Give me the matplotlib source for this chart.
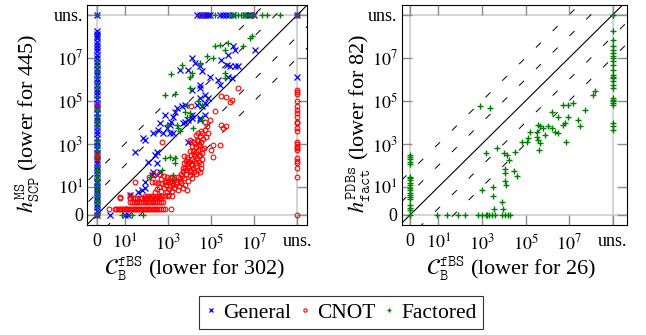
import matplotlib
matplotlib.use('Agg')
import matplotlib.pyplot as plt
from matplotlib.lines import Line2D

plt.rcParams['font.family'] = ['Liberation Serif', 'DejaVu Serif']
plt.rcParams['mathtext.fontset'] = 'stix'
plt.rcParams['lines.scale_dashes'] = False

# values are log10 of the measure; 0 and "unsolved" get their own slots
ZERO = -0.3
UNS = 9.0

tick_pos = [ZERO, 1, 3, 5, 7, UNS]
tick_lbl = ['0', '$10^{1}$', '$10^{3}$', '$10^{5}$', '$10^{7}$', 'uns.']

# ---------------- left plot: C_B^fBS vs h^MS_SCP ----------------
# General (blue)
gen_col_y = [-0.3, -0.12, 0.05, 0.22, 0.4, 0.52, 0.7, 0.86, 1.0, 1.18, 1.3, 1.47, 1.62, 1.8,
             1.93, 2.1, 2.27, 2.44, 2.6, 2.78, 2.95, 3.1, 3.28, 3.45, 3.6, 3.77, 3.93, 4.1,
             4.25, 4.42, 4.6, 4.75, 4.9, 5.07, 5.25, 5.4, 5.55, 5.72, 5.88, 6.02, 6.2, 6.35,
             6.5, 6.66, 6.8, 6.97, 7.12, 7.3, 7.45, 7.6, 7.75, 7.9, 8.02, 8.12, 8.23, UNS]
gen_row_x = [4.36, 4.48, 4.56, 4.65, 4.75, 4.86, 4.94, 5.4, 5.56, 5.7, 5.82, 6.0, 6.56, 6.7,
             6.8, 7.0, UNS]
gen_ucol_y = [6.1]
gen_bot_x = [0.32, 1.01, 1.16]
gen_pts = [(4.10, 6.99), (3.55, 6.44), (3.94, 6.44), (4.25, 6.76), (4.48, 5.75), (3.40, 4.66),
           (3.32, 4.50), (2.86, 4.35), (3.79, 4.82), (4.10, 4.35), (4.56, 6.37), (4.48, 6.6),
           (6.02, 7.53), (6.10, 7.37), (7.03, 7.37), (5.79, 7.14), (5.48, 6.91), (5.72, 6.68),
           (5.87, 6.6), (6.10, 6.6), (6.25, 6.6), (4.94, 6.13), (5.33, 5.98), (5.79, 6.13),
           (5.95, 6.06), (5.41, 5.75), (4.48, 5.59), (4.71, 5.28), (4.48, 5.13), (4.86, 5.13),
           (4.33, 4.82), (4.56, 4.74), (4.71, 4.9), (4.10, 5.51), (3.63, 4.74), (3.94, 3.11),
           (4.48, 4.2), (4.71, 4.35), (3.25, 4.27), (2.63, 3.96), (2.55, 3.65), (2.32, 3.5),
           (2.78, 3.5), (3.09, 3.5), (3.25, 3.5), (2.94, 3.73), (3.71, 3.96), (3.94, 4.12),
           (4.1, 4.2), (4.48, 4.12), (1.94, 3.19), (1.86, 3.27), (1.47, 2.64), (2.48, 2.64),
           (2.40, 2.49), (2.09, 2.18), (2.48, 2.1), (2.63, 1.71), (2.25, 1.56), (1.94, 0.94),
           (1.78, 0.86), (1.62, 0.78), (1.24, 0.63), (2.32, 1.71), (1.94, 1.25), (3.16, 4.04),
           (3.08, 3.89), (3.79, 4.04)]

# CNOT (red)
cnot_col_y = [-0.3, 2.33, 2.45, 2.58, 4.7, 4.82]
cnot_row_x = [4.53, 6.95, UNS]
cnot_ucol_y = [-0.3, 1.48, 1.87, 2.1, 2.21, 2.34, 2.72, 2.8, 2.88, 2.99, 3.11, 3.6, 3.73, 3.97,
               4.04, 4.27, 4.43, 4.58, 4.74, 4.97, 5.31, 5.41, 5.51]
cnot_h1_x = [0.27, 0.55, 0.61, 0.69, 0.76, 0.83, 0.9, 0.98, 1.05, 1.11, 1.19, 1.26, 1.33, 1.41,
             1.48, 1.55, 1.63, 1.7, 1.77, 1.84, 1.92, 1.99, 2.06, 2.14, 2.21, 2.29, 2.36, 2.44,
             2.51, 2.6, 2.68, 2.77, 2.86, 3.12]
cnot_h2_x = [1.24, 1.33, 1.42, 1.5, 1.58, 1.67, 1.75, 1.83, 1.92, 2.0, 2.08, 2.17, 2.25, 2.33,
             2.42, 2.5, 2.58, 2.67, 2.78]
cnot_h3_x = [1.24, 1.36, 1.47, 1.58, 1.7, 1.81, 1.93, 2.04, 2.15, 2.27, 2.38, 2.5, 2.63]
cnot_h4_x = [1.94, 2.07, 2.2, 2.33, 2.47, 2.6, 2.74, 2.88, 3.02, 3.17]
cnot_pts = [(0.78, 0.48), (1.24, 0.63), (1.47, 1.25), (0.78, 0.55), (2.25, 1.25), (2.4, 1.25),
            (2.55, 1.2), (2.7, 1.17), (2.85, 1.22), (3.0, 1.25), (3.17, 1.2), (2.4, 0.75),
            (2.5, 0.9), (2.6, 1.0), (2.7, 0.8), (2.8, 0.95), (2.9, 1.1), (2.95, 0.75),
            (3.05, 0.9), (3.1, 1.05), (3.2, 0.8), (3.3, 0.95), (3.35, 1.15), (3.45, 0.85),
            (3.5, 1.05), (3.6, 1.2), (3.7, 0.95), (3.8, 1.1), (3.9, 0.85), (3.3, 1.35),
            (3.45, 1.45), (3.55, 1.3), (3.65, 1.5), (3.75, 1.4), (3.85, 1.6), (3.95, 1.3),
            (4.0, 1.55), (3.2, 1.45), (3.1, 1.4), (2.95, 1.45), (2.8, 1.5), (2.7, 1.35),
            (2.6, 1.6), (2.1, 1.45), (2.3, 1.6), (3.7, 1.75), (3.8, 1.9), (3.9, 2.05),
            (4.0, 1.8), (4.1, 2.0), (4.2, 2.2), (4.3, 1.95), (4.35, 2.35), (4.45, 2.15),
            (4.5, 2.5), (4.55, 1.9), (3.95, 2.3), (4.05, 2.5), (4.15, 2.65), (4.25, 2.45),
            (4.4, 2.7), (3.85, 2.2), (3.75, 2.45), (4.6, 2.3), (4.5, 1.7), (4.3, 1.6),
            (4.1, 1.4), (4.2, 1.7), (4.1, 2.9), (4.2, 3.1), (4.3, 2.85), (4.35, 3.2),
            (4.45, 3.0), (4.5, 3.35), (4.55, 3.1), (4.6, 3.5), (4.65, 2.8), (4.7, 3.65),
            (4.75, 3.3), (4.8, 3.85), (4.85, 3.5), (4.7, 4.0), (4.4, 3.5), (4.3, 3.4),
            (4.0, 3.2), (4.6, 2.6), (2.71, 3.11), (5.48, 3.89), (5.56, 3.73), (5.41, 2.96),
            (5.1, 2.41), (5.17, 4.52), (4.99, 2.72), (5.71, 3.81), (5.48, 5.22), (5.87, 4.95),
            (6.25, 5.59), (5.1, 2.96), (4.06, 4.74), (5.67, 5.2), (5.98, 5.02), (4.94, 4.12),
            (3.62, 1.62), (3.68, 1.9), (3.74, 2.12), (3.82, 1.78), (3.88, 2.4), (3.92, 1.95),
            (3.98, 2.15), (4.02, 2.68), (4.08, 1.68), (4.12, 2.32), (4.18, 1.88), (4.22, 2.55),
            (4.28, 2.12), (4.32, 2.62), (4.38, 1.8), (4.42, 2.42), (4.48, 2.9), (4.52, 2.08),
            (4.58, 2.78), (4.25, 3.0), (4.05, 2.05), (3.58, 1.42), (3.4, 1.25), (3.15, 1.3),
            (2.9, 1.3), (3.0, 0.65), (3.25, 1.1), (4.4, 3.15), (4.62, 3.25), (4.52, 3.6)]

# Factored (green)
fac_col_y = [-0.3, -0.2, 0.09, 0.25, 0.4, 0.55, 0.71, 0.88, 1.02, 1.18, 1.33, 1.5, 1.64, 1.8,
             1.95, 2.41, 2.72, 2.96, 3.19, 3.81, 4.12, 4.35, 4.58, 5.2, 5.59, 5.83, 6.13, 6.37,
             6.6, 6.83, UNS]
fac_row_x = [5.2, 5.87, 6.0, 6.12, 6.25, 6.38, 6.5, 6.62, 6.75, 6.87, 7.34, 7.57, 8.18, UNS]
fac_bot_x = [0.86, 1.32, 1.86]
fac_pts = [(3.63, 6.68), (3.14, 6.26), (4.10, 6.29), (4.02, 6.13), (4.02, 5.59), (2.86, 5.28),
           (3.32, 5.31), (3.86, 4.82), (3.79, 4.5), (4.02, 4.43), (5.17, 7.53), (5.41, 7.61),
           (5.64, 7.37), (5.79, 7.69), (6.48, 7.53), (6.79, 7.92), (6.9, 8.0), (4.79, 7.06),
           (5.1, 6.99), (4.48, 6.76), (5.64, 6.29), (5.64, 6.06), (4.40, 4.97), (4.56, 4.82),
           (2.94, 3.89), (3.40, 3.89), (3.48, 3.73), (3.86, 4.27), (4.17, 3.73), (4.56, 4.12),
           (2.86, 2.34), (3.09, 2.41), (3.32, 2.34), (3.32, 2.1), (2.71, 1.79), (2.17, 1.48),
           (3.25, 1.56), (3.55, 3.6)]

# ---------------- right plot: C_B^fBS vs h^PDBs_fact ----------------
pdb_col_y = [-0.3, -0.07, 0.01, 0.17, 0.43, 0.52, 0.63, 0.74, 0.86, 0.94, 1.1, 1.2, 1.33, 1.41,
             1.48, 2.06, 2.18, 2.29, 2.41, 2.49]
pdb_bot_x = [0.92, 1.38, 1.92, 2.22, 2.83, 2.99, 3.18, 3.24, 3.33, 3.44, 3.6, 3.91, 4.06, 4.21,
             4.29]
pdb_ucol_y = [3.65, 3.81, 3.96, 4.82, 4.9, 4.97, 5.05, 5.13, 5.59, 5.74, 5.9, 6.06, 6.13, 6.21,
              6.44, 6.68, 6.83, 6.99, 7.06, 7.22, 7.37, 7.53, 7.84, 8.23, UNS]
pdb_pts = [(2.91, 4.74), (3.37, 4.66), (2.99, 0.86), (3.49, 0.99), (3.49, 0.58), (3.93, 0.32),
           (3.55, 0.0), (3.98, 0.0), (3.17, 2.57), (3.68, 2.8), (4.03, 2.57), (4.14, 2.49),
           (4.26, 2.26), (4.52, 2.64), (4.06, 1.83), (4.06, 1.64), (4.47, 1.76), (4.59, 1.51),
           (4.06, 1.28), (4.1, 1.1), (4.82, 3.11), (5.05, 3.11), (5.13, 3.27), (5.2, 3.57),
           (5.51, 3.57), (5.58, 3.89), (5.66, 3.81), (5.81, 3.73), (5.58, 3.19), (5.66, 3.03),
           (5.63, 2.72), (5.51, 3.34), (5.89, 3.42), (6.04, 3.81), (6.2, 3.73), (6.35, 3.57),
           (6.5, 3.5), (6.2, 4.5), (6.5, 4.27), (6.73, 3.89), (6.81, 3.96), (6.96, 4.27),
           (6.86, 3.11), (7.5, 3.81), (7.42, 4.12), (7.73, 4.58), (6.73, 4.82), (6.96, 4.82),
           (7.19, 4.9), (8.19, 5.44), (8.11, 5.28)]


def gather(col_y=(), row_x=(), ucol_y=(), bot_x=(), pts=()):
    xs = [ZERO] * len(col_y) + list(row_x) + [UNS] * len(ucol_y) + list(bot_x)
    ys = list(col_y) + [UNS] * len(row_x) + list(ucol_y) + [ZERO] * len(bot_x)
    xs += [p[0] for p in pts]
    ys += [p[1] for p in pts]
    return xs, ys


gen_x, gen_y = gather(gen_col_y, gen_row_x, gen_ucol_y, gen_bot_x, gen_pts)
cnot_pts_all = cnot_pts + [(x, 0.0) for x in cnot_h1_x] + [(x, 0.3) for x in cnot_h2_x] \
    + [(x, 0.48) for x in cnot_h3_x] + [(x, 0.6) for x in cnot_h4_x]
cnot_x, cnot_y = gather(cnot_col_y, cnot_row_x, cnot_ucol_y, (), cnot_pts_all)
fac_x, fac_y = gather(fac_col_y, fac_row_x, (), fac_bot_x, fac_pts)
pdb_x, pdb_y = gather(pdb_col_y, [UNS], pdb_ucol_y, pdb_bot_x, pdb_pts)

BLUE = '#0000ff'
RED = '#ff0000'
GREEN = '#008000'

gen_style = dict(ls='none', marker='x', ms=4.4, mew=0.9, color=BLUE)
cnot_style = dict(ls='none', marker='o', ms=3.4, mew=0.8, mfc='none', mec=RED)
fac_style = dict(ls='none', marker='+', ms=5.0, mew=1.0, color=GREEN)

fig = plt.figure(figsize=(6.46, 3.35), dpi=100)
ax1 = fig.add_axes([87.3 / 646, 110 / 335, 219.7 / 646, 220.3 / 335])
ax2 = fig.add_axes([401.7 / 646, 110 / 335, 225 / 646, 220.3 / 335])


def style_axes(ax, xlim):
    ax.set_xlim(*xlim)
    ax.set_ylim(-0.765, 9.465)
    for v in (ZERO, UNS):
        ax.axvline(v, color='0.82', lw=1.3, zorder=0)
        ax.axhline(v, color='0.82', lw=1.3, zorder=0)
    for k in (-2, -1, 1, 2):
        ax.plot([-3, 12], [-3 + k, 12 + k], color='black', lw=0.7,
                linestyle=(0, (5, 12)), zorder=1)
    ax.plot([-3, 12], [-3, 12], color='black', lw=0.8, zorder=1)
    ax.set_xticks(tick_pos)
    ax.set_xticklabels(tick_lbl)
    ax.set_yticks(tick_pos)
    ax.set_yticklabels(tick_lbl)
    ax.tick_params(direction='in', length=7, width=1.0, color='0.55', top=True,
                   right=True, labelsize=13)
    ax.tick_params(axis='x', pad=6)
    ax.tick_params(axis='y', pad=3)
    for s in ax.spines.values():
        s.set_linewidth(0.8)
        s.set_zorder(5)


style_axes(ax1, (-0.735, 9.44))
style_axes(ax2, (-0.68, 9.64))

ax1.plot(gen_x, gen_y, zorder=3, **gen_style)
ax1.plot(cnot_x, cnot_y, zorder=3, **cnot_style)
ax1.plot(fac_x, fac_y, zorder=3, **fac_style)
ax2.plot(pdb_x, pdb_y, zorder=3, **fac_style)

ax1.set_xlabel(r'$\mathcal{C}^{\mathtt{fBS}}_{\mathtt{B}}$ (lower for 302)', fontsize=16)
ax1.set_ylabel(r'$h^{\mathtt{MS}}_{\mathtt{SCP}}$ (lower for 445)', fontsize=16)
ax2.set_xlabel(r'$\mathcal{C}^{\mathtt{fBS}}_{\mathtt{B}}$ (lower for 26)', fontsize=16)
ax2.set_ylabel(r'$h^{\mathtt{PDBs}}_{\mathtt{fact}}$ (lower for 82)', fontsize=16)
for ax, xc, yx in ((ax1, 0.49, -0.27), (ax2, 0.485, -0.19)):
    ax.xaxis.label.set_va('center')
    ax.xaxis.set_label_coords(xc, -0.2)
    ax.yaxis.label.set_va('center')
    ax.yaxis.set_label_coords(yx, 0.46)

handles = [Line2D([], [], **gen_style), Line2D([], [], **cnot_style),
           Line2D([], [], **fac_style)]
leg = fig.legend(handles, ['General', 'CNOT', 'Factored'], ncol=3, loc='center',
                 bbox_to_anchor=(0.528, 0.067), frameon=True, fancybox=False,
                 edgecolor='black', fontsize=15.5, handlelength=0.5, handletextpad=0.3,
                 columnspacing=0.4, borderpad=0.3, borderaxespad=0, markerscale=0.7)
leg.get_frame().set_linewidth(0.8)

fig.savefig('out.png', dpi=100)
